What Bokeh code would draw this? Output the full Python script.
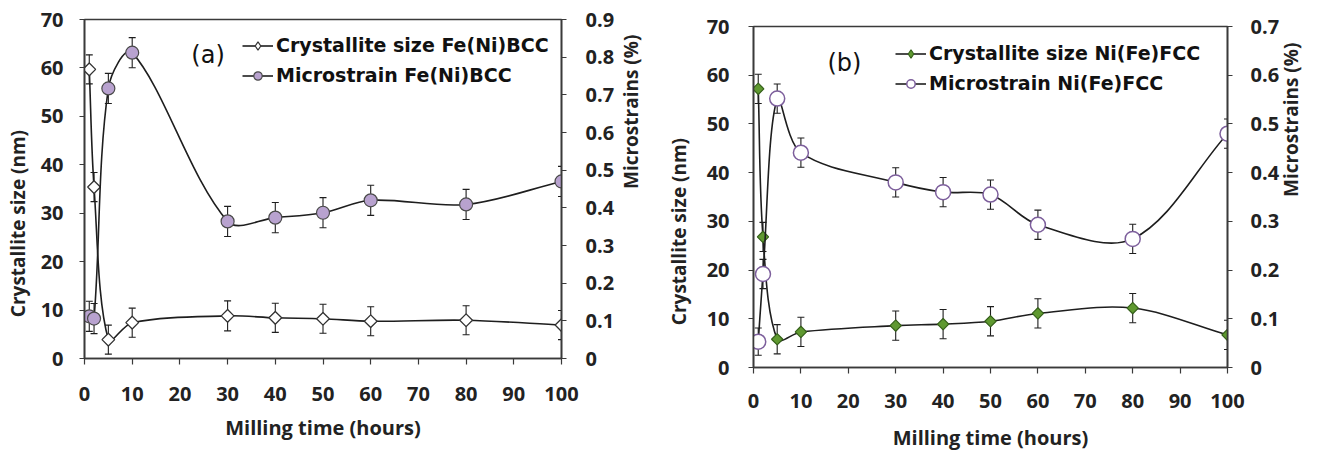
import math
from bokeh.plotting import figure
from bokeh.models import (Range1d, LinearAxis, FixedTicker, Whisker, TeeHead,
                          ColumnDataSource, Legend, LegendItem, Label, Spacer)
from bokeh.layouts import row, column
from bokeh.embed import file_html
from bokeh.resources import INLINE

# ---------------- data ----------------
hours = [1, 2, 5, 10, 30, 40, 50, 60, 80, 100]

bcc_size = [59.7, 35.4, 3.9, 7.4, 8.8, 8.4, 8.2, 7.7, 7.9, 6.9]
bcc_size_err = [3.0, 3.0, 3.0, 3.0, 3.1, 3.0, 3.0, 3.0, 3.0, 3.0]
bcc_strain = [0.112, 0.106, 0.717, 0.812, 0.364, 0.374, 0.387, 0.420, 0.409, 0.470]
bcc_strain_err = [0.04, 0.04, 0.04, 0.04, 0.04, 0.04, 0.04, 0.04, 0.04, 0.04]

fcc_size = [57.2, 26.8, 5.8, 7.3, 8.6, 8.9, 9.5, 11.1, 12.2, 6.7]
fcc_size_err = [3.0, 3.0, 3.0, 3.0, 3.0, 3.0, 3.0, 3.0, 3.0, 3.0]
fcc_strain = [0.053, 0.192, 0.552, 0.441, 0.380, 0.360, 0.355, 0.293, 0.264, 0.480]
fcc_strain_err = [0.028, 0.03, 0.03, 0.03, 0.03, 0.03, 0.03, 0.03, 0.03, 0.03]

x_ticks = [0, 10, 20, 30, 40, 50, 60, 70, 80, 90, 100]
x_labels = ["0", "10", "20", "30", "40", "50", "60", "70", "80", "90", "100"]
size_ticks = [0, 10, 20, 30, 40, 50, 60, 70]
size_labels = ["0", "10", "20", "30", "40", "50", "60", "70"]
bcc_strain_ticks = [0, 0.1, 0.2, 0.3, 0.4, 0.5, 0.6, 0.7, 0.8, 0.9]
bcc_strain_labels = ["0", "0.1", "0.2", "0.3", "0.4", "0.5", "0.6", "0.7", "0.8", "0.9"]
fcc_strain_ticks = [0, 0.1, 0.2, 0.3, 0.4, 0.5, 0.6, 0.7]
fcc_strain_labels = ["0", "0.1", "0.2", "0.3", "0.4", "0.5", "0.6", "0.7"]

x_title = "Milling time (hours)"
left_title = "Crystallite size (nm)"
right_title = "Microstrains (%)"

# ---------------- style ----------------
AX = "#3a3a3a"
TXT = "#222222"
LINE = "#1e1e1e"
TICK_FONT = "Open Sans"
LEG_FONT = "DejaVu Sans"
PAD = "\u00a0" * 14   # shifts the left vertical titles below the frame centre


def smooth_segments(xs, ys, kx, ky):
    """Bezier control points (screen-length weighted) for a smoothed line."""
    n = len(xs)
    px = [x * kx for x in xs]
    py = [y * ky for y in ys]

    def dist(i, j):
        return math.hypot(px[j] - px[i], py[j] - py[i])

    d = dict(x0=[], y0=[], x1=[], y1=[], cx0=[], cy0=[], cx1=[], cy1=[])
    for i in range(n - 1):
        a = max(i - 1, 0)
        b = min(i + 2, n - 1)
        d01, d12, d23 = dist(a, i), dist(i, i + 1), dist(i + 1, b)
        f1 = d12 / (d01 + d12) / 3.0
        f2 = d12 / (d12 + d23) / 3.0
        t1x, t1y = px[i + 1] - px[a], py[i + 1] - py[a]
        t2x, t2y = px[b] - px[i], py[b] - py[i]
        d["x0"].append(xs[i]); d["y0"].append(ys[i])
        d["x1"].append(xs[i + 1]); d["y1"].append(ys[i + 1])
        d["cx0"].append((px[i] + t1x * f1) / kx)
        d["cy0"].append((py[i] + t1y * f1) / ky)
        d["cx1"].append((px[i + 1] - t2x * f2) / kx)
        d["cy1"].append((py[i + 1] - t2y * f2) / ky)
    return ColumnDataSource(d)


def style_axis(ax, ticks, labels, standoff, title, title_standoff, title_size="20px"):
    ax.ticker = FixedTicker(ticks=ticks)
    ax.major_label_overrides = {t: l for t, l in zip(ticks, labels)}
    ax.axis_line_color = AX
    ax.axis_line_width = 1.6
    ax.major_tick_line_color = AX
    ax.major_tick_line_width = 1.2
    ax.major_tick_out = 5
    ax.major_tick_in = 0
    ax.minor_tick_line_color = None
    ax.major_label_text_font = TICK_FONT
    ax.major_label_text_font_style = "bold"
    ax.major_label_text_font_size = "20px"
    ax.major_label_text_color = TXT
    ax.major_label_standoff = standoff
    ax.axis_label = title
    ax.axis_label_text_font = TICK_FONT
    ax.axis_label_text_font_style = "bold"
    ax.axis_label_text_font_size = title_size
    ax.axis_label_text_color = TXT
    ax.axis_label_standoff = title_standoff


def err_source(xs, ys, es):
    return ColumnDataSource(dict(x=xs, upper=[y + e for y, e in zip(ys, es)],
                                 lower=[y - e for y, e in zip(ys, es)]))


def add_whisker(p, src, range_name="default"):
    kw = dict(source=src, base="x", upper="upper", lower="lower",
              line_color=LINE, line_width=1.1,
              upper_head=TeeHead(size=7, line_color=LINE, line_width=1.1),
              lower_head=TeeHead(size=7, line_color=LINE, line_width=1.1))
    if range_name != "default":
        kw["y_range_name"] = range_name
    p.add_layout(Whisker(**kw))


def make_panel(size_wh, mb, strain_max, strain_ticks, strain_labels,
               size_vals, size_err, strain_vals, strain_err,
               size_marker, legend_size_marker, strain_marker, legend_labels, legend_xy,
               tag, tag_xy, so):
    W, H = size_wh
    ml, mr, mt, mbot = mb
    fw, fh = W - ml - mr, H - mt - mbot
    p = figure(width=W, height=H, x_range=Range1d(0, 100), y_range=Range1d(0, 70),
               output_backend="svg", toolbar_location=None,
               min_border_left=ml, min_border_right=mr,
               min_border_top=mt, min_border_bottom=mbot)
    p.xgrid.visible = False
    p.ygrid.visible = False
    p.outline_line_color = AX
    p.outline_line_width = 1.6
    p.background_fill_color = "white"
    p.border_fill_color = "white"
    p.extra_y_ranges = {"strain": Range1d(0, strain_max)}

    style_axis(p.xaxis[0], x_ticks, x_labels, so["x"], x_title, so["xt"])
    p.xaxis[0].major_tick_out = 6
    style_axis(p.yaxis[0], size_ticks, size_labels, so["y"], left_title + PAD, so["yt"], "19px")
    rax = LinearAxis(y_range_name="strain")
    style_axis(rax, strain_ticks, strain_labels, so["r"], right_title, so["rt"], "19px")
    rax.axis_label_orientation = math.pi / 2
    p.add_layout(rax, "right")

    kx = fw / 100.0
    ky_size = fh / 70.0
    ky_strain = fh / strain_max

    # error bars
    add_whisker(p, err_source(hours, size_vals, size_err))
    add_whisker(p, err_source(hours, strain_vals, strain_err), "strain")

    # crystallite size series
    s_line = p.bezier(x0="x0", y0="y0", x1="x1", y1="y1", cx0="cx0", cy0="cy0",
                      cx1="cx1", cy1="cy1",
                      source=smooth_segments(hours, size_vals, kx, ky_size),
                      line_color=LINE, line_width=1.6)
    p.scatter(hours, size_vals, **size_marker)
    s_leg = p.scatter(hours, size_vals, visible=False, **legend_size_marker)

    # microstrain series
    m_line = p.bezier(x0="x0", y0="y0", x1="x1", y1="y1", cx0="cx0", cy0="cy0",
                      cx1="cx1", cy1="cy1",
                      source=smooth_segments(hours, strain_vals, kx, ky_strain),
                      line_color=LINE, line_width=1.6, y_range_name="strain")
    m_pts = p.scatter(hours, strain_vals, y_range_name="strain", **strain_marker)

    leg = Legend(items=[LegendItem(label=legend_labels[0], renderers=[s_line, s_leg]),
                        LegendItem(label=legend_labels[1], renderers=[m_line, m_pts])],
                 location=legend_xy, orientation="vertical",
                 border_line_color=None, background_fill_alpha=0,
                 padding=0, margin=0, spacing=8,
                 glyph_width=31, glyph_height=21, label_height=21, label_standoff=3,
                 label_text_font=LEG_FONT, label_text_font_style="bold",
                 label_text_font_size="19px", label_text_color="#111111")
    p.add_layout(leg, "center")

    p.add_layout(Label(x=tag_xy[0], y=tag_xy[1], text=tag, text_baseline="middle",
                       text_align="left", text_font="DejaVu Sans",
                       text_font_size="24px", text_color="#111111"))
    return p


pa = make_panel((660, 454), (84, 97, 19, 96), 0.9, bcc_strain_ticks, bcc_strain_labels,
                bcc_size, bcc_size_err, bcc_strain, bcc_strain_err,
                dict(marker="square", size=9, angle=math.pi / 4, fill_color="white",
                     line_color="#333333", line_width=1.3),
                dict(marker="diamond", size=12, fill_color="white",
                     line_color="#333333", line_width=1.2),
                dict(marker="circle", size=13, fill_color="#b8a2cf",
                     line_color="#4a4a4a", line_width=1.2),
                ["Crystallite size Fe(Ni)BCC", "Microstrain Fe(Ni)BCC"],
                (158, 272), "(a)", (22.4, 62.6),
                dict(x=22, xt=10, y=16, yt=7, r=19, rt=14))

pb = make_panel((660, 447), (93, 93, 19, 87), 0.7, fcc_strain_ticks, fcc_strain_labels,
                fcc_size, fcc_size_err, fcc_strain, fcc_strain_err,
                dict(marker="square", size=8, angle=math.pi / 4, fill_color="#5f9930",
                     line_color="#35601a", line_width=1.2),
                dict(marker="diamond", size=12, fill_color="#5f9930",
                     line_color="#35601a", line_width=1.1),
                dict(marker="circle", size=15, fill_color="white",
                     line_color="#7d5f9c", line_width=1.5),
                ["Crystallite size Ni(Fe)FCC", "Microstrain Ni(Fe)FCC"],
                (142, 273), "(b)", (15.6, 62.6),
                dict(x=20, xt=13, y=19, yt=12, r=18, rt=9))

layout = row(pa, column(Spacer(height=7), pb))
open("out.html", "w").write(file_html(layout, INLINE))
